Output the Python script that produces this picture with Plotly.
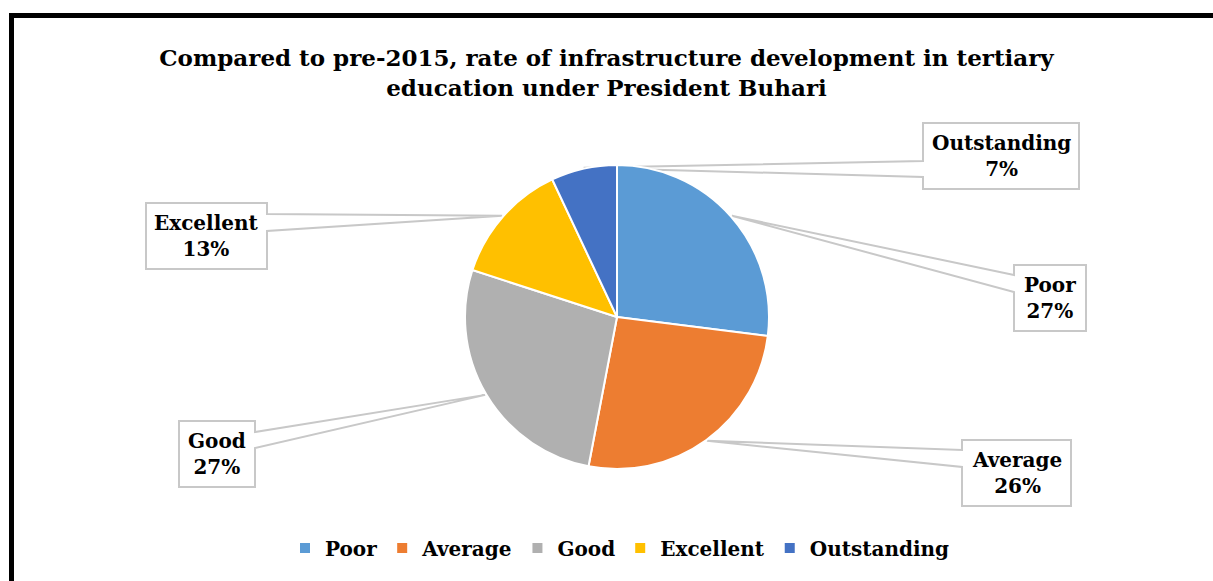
import math
import plotly.graph_objects as go

# Survey responses (share of respondents)
categories = ["Poor", "Average", "Good", "Excellent", "Outstanding"]
values = [27, 26, 27, 13, 7]
colors = ["#5B9BD5", "#ED7D31", "#B0B0B0", "#FFC000", "#4472C4"]

title_text = ("Compared to pre-2015, rate of infrastructure development in tertiary"
              "<br>education under President Buhari")

W, H = 1213, 581
FONT = "DejaVu Serif"

# pie geometry (pixels)
CX, CY, R = 617, 317, 152
TIP_R = 153

# callout boxes: x0, y0, x1, y1, wedge attach y0, y1 (pixels), side of wedge
boxes = {
    "Poor":        (1014, 265, 1086, 331, 275, 292, "left"),
    "Average":     (962, 440, 1071, 506, 450, 467, "left"),
    "Good":        (179, 421, 255, 487, 432, 448, "right"),
    "Excellent":   (146, 203, 267, 269, 214, 231, "right"),
    "Outstanding": (923, 123, 1079, 189, 161, 177, "left"),
}


def px(x):
    return x / W


def py(y):
    return 1 - y / H


fig = go.Figure(go.Pie(
    labels=categories,
    values=values,
    sort=False,
    direction="clockwise",
    rotation=0,
    textinfo="none",
    hoverinfo="label+percent",
    marker=dict(colors=colors, line=dict(color="white", width=2)),
    domain=dict(x=[px(CX - R), px(CX + R)], y=[py(CY + R), py(CY - R)]),
))

total = sum(values)
cum = 0
shapes = []
annotations = []
for name, v in zip(categories, values):
    mid = (cum + v / 2) / total * 2 * math.pi
    cum += v
    tx = CX + TIP_R * math.sin(mid)
    ty = CY - TIP_R * math.cos(mid)
    x0, y0, x1, y1, a0, a1, side = boxes[name]
    if side == "left":
        pts = [(x0, y0), (x1, y0), (x1, y1), (x0, y1), (x0, a1), (tx, ty), (x0, a0)]
    else:
        pts = [(x0, y0), (x1, y0), (x1, a0), (tx, ty), (x1, a1), (x1, y1), (x0, y1)]
    path = "M " + " L ".join(f"{px(a):.5f},{py(b):.5f}" for a, b in pts) + " Z"
    shapes.append(dict(type="path", xref="paper", yref="paper", path=path,
                       fillcolor="white", line=dict(color="#C8C8C8", width=2),
                       layer="below"))
    pct = round(v / total * 100)
    annotations.append(dict(
        x=px((x0 + x1) / 2), y=py((y0 + y1) / 2), xref="paper", yref="paper",
        text=f"{name}<br>{pct}%", showarrow=False,
        font=dict(family=FONT, size=20, color="black", weight="bold"),
        xanchor="center", yanchor="middle",
    ))

# chart frame
shapes.append(dict(type="rect", xref="paper", yref="paper",
                   x0=px(11.5), y0=py(H + 20), x1=px(W + 20), y1=py(15.5),
                   line=dict(color="black", width=5), fillcolor="rgba(0,0,0,0)",
                   layer="above"))

fig.update_layout(
    width=W, height=H,
    margin=dict(l=0, r=0, t=0, b=0),
    paper_bgcolor="white",
    plot_bgcolor="white",
    title=dict(text=title_text, x=0.5, xref="paper", xanchor="center",
               y=py(66), yref="paper", yanchor="middle",
               font=dict(family=FONT, size=23, color="black", weight="bold")),
    showlegend=True,
    legend=dict(orientation="h", x=px(620), xanchor="center", y=py(548), yanchor="middle",
                font=dict(family=FONT, size=20, color="black", weight="bold"),
                traceorder="normal"),
    shapes=shapes,
    annotations=annotations,
)

fig.write_html("out.html")
